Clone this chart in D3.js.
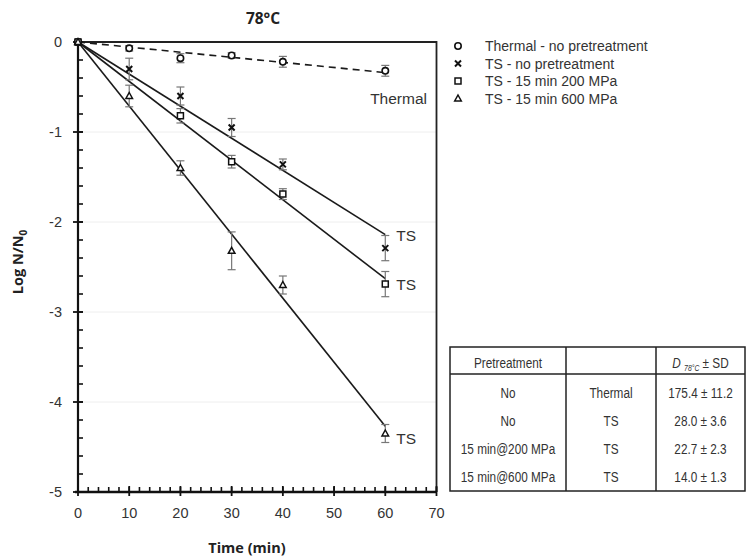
<!DOCTYPE html>
<html>
<head>
<meta charset="utf-8">
<script src="https://cdn.jsdelivr.net/npm/d3@7"></script>
<style>
  body { margin: 0; background: #fff; }
  svg { display: block; font-family: "Liberation Sans", Arial, sans-serif; }
</style>
</head>
<body>
<svg id="chart" width="746" height="558"></svg>
<script>
// data
var times = [0, 10, 20, 30, 40, 60];
var seriesNames = ["Thermal - no pretreatment", "TS - no pretreatment", "TS - 15 min 200 MPa", "TS - 15 min 600 MPa"];
var thermalVals = [0, -0.07, -0.18, -0.15, -0.22, -0.32];
var thermalErr = [0, 0.03, 0.05, 0.03, 0.06, 0.06];
var tsNoVals = [0, -0.30, -0.60, -0.95, -1.36, -2.29];
var tsNoErr = [0, 0.12, 0.10, 0.10, 0.06, 0.14];
var ts200Vals = [0, null, -0.82, -1.33, -1.69, -2.69];
var ts200Err = [0, 0, 0.08, 0.07, 0.06, 0.14];
var ts600Vals = [0, -0.60, -1.40, -2.32, -2.70, -4.35];
var ts600Err = [0, 0.12, 0.08, 0.21, 0.10, 0.10];
// fitted lines, value at t = 60
var fitEnd = [-0.34, -2.14, -2.63, -4.27];
var lineLabels = ["Thermal", "TS", "TS", "TS"];

var tableHead = ["Pretreatment", "", "D"];
var tablePre = ["No", "No", "15 min@200 MPa", "15 min@600 MPa"];
var tableType = ["Thermal", "TS", "TS", "TS"];
var tableD = ["175.4 \u00b1 11.2", "28.0 \u00b1 3.6", "22.7 \u00b1 2.3", "14.0 \u00b1 1.3"];

var svg = d3.select("#chart");
var x = d3.scaleLinear().domain([0, 70]).range([78, 436.5]);
var y = d3.scaleLinear().domain([-5, 0]).range([492, 42]);

// faint grid
svg.append("g").selectAll("line").data([-1, -2, -3, -4]).join("line")
    .attr("x1", x(0)).attr("x2", x(70))
    .attr("y1", d => y(d)).attr("y2", d => y(d))
    .attr("stroke", "#eeeeee").attr("stroke-width", 1);

// frame top and right
svg.append("path")
    .attr("d", "M" + x(0) + "," + y(0) + "H" + x(70) + "V" + y(-5))
    .attr("fill", "none").attr("stroke", "#222").attr("stroke-width", 1.8);

// y axis
var yAxis = svg.append("g").attr("transform", "translate(" + x(0) + ",0)");
yAxis.append("line").attr("y1", y(0)).attr("y2", y(-5)).attr("stroke", "#111").attr("stroke-width", 2.2);
yAxis.selectAll(".minor").data(d3.range(-50, 1, 2).map(d => d / 10)).join("line")
    .attr("x1", 0).attr("x2", 5)
    .attr("y1", d => y(d)).attr("y2", d => y(d))
    .attr("stroke", "#111").attr("stroke-width", 1.6);
yAxis.selectAll(".major").data(d3.range(-5, 1)).join("line")
    .attr("x1", -5).attr("x2", 5)
    .attr("y1", d => y(d)).attr("y2", d => y(d))
    .attr("stroke", "#111").attr("stroke-width", 1.8);
yAxis.selectAll("text").data(d3.range(-5, 1)).join("text")
    .attr("x", -16).attr("y", d => y(d) + 5)
    .attr("text-anchor", "end").attr("font-size", 14.5).attr("fill", "#333")
    .text(d => d);

// x axis
var xAxis = svg.append("g").attr("transform", "translate(0," + y(-5) + ")");
xAxis.append("line").attr("x1", x(0) - 3).attr("x2", x(70)).attr("stroke", "#111").attr("stroke-width", 2.4);
xAxis.selectAll(".minor").data(d3.range(0, 71, 2)).join("line")
    .attr("x1", d => x(d)).attr("x2", d => x(d))
    .attr("y1", 0).attr("y2", -5)
    .attr("stroke", "#111").attr("stroke-width", 1.6);
xAxis.selectAll(".major").data(d3.range(0, 71, 10)).join("line")
    .attr("x1", d => x(d)).attr("x2", d => x(d))
    .attr("y1", 4).attr("y2", -6)
    .attr("stroke", "#111").attr("stroke-width", 1.8);
xAxis.selectAll("text").data(d3.range(0, 71, 10)).join("text")
    .attr("x", d => x(d)).attr("y", 26)
    .attr("text-anchor", "middle").attr("font-size", 14.5).attr("fill", "#333")
    .text(d => d);

// titles
svg.append("text").attr("x", 263).attr("y", 24).attr("text-anchor", "middle")
    .attr("font-family", "'Open Sans', sans-serif").attr("font-weight", "bold").attr("font-size", 15.5).attr("fill", "#222")
    .text("78\u00b0C");
svg.append("text").attr("x", 247).attr("y", 553).attr("text-anchor", "middle")
    .attr("font-family", "'Open Sans', sans-serif").attr("font-weight", "bold").attr("font-size", 14.5).attr("fill", "#222")
    .text("Time (min)");
var yl = svg.append("text").attr("transform", "translate(23,262) rotate(-90)").attr("text-anchor", "middle")
    .attr("font-family", "'Open Sans', sans-serif").attr("font-weight", "bold").attr("font-size", 14.5).attr("fill", "#222");
yl.append("tspan").text("Log N/N");
yl.append("tspan").attr("font-size", 10).attr("dy", 4).text("0");

// fitted lines
svg.append("g").selectAll("line").data(fitEnd).join("line")
    .attr("x1", x(0)).attr("y1", y(0))
    .attr("x2", x(60)).attr("y2", d => y(d))
    .attr("stroke", "#1a1a1a").attr("stroke-width", 1.6)
    .attr("stroke-dasharray", (d, i) => i === 0 ? "7,5" : null);

// line labels
svg.append("text").attr("x", 427).attr("y", 104).attr("text-anchor", "end")
    .attr("font-size", 15.5).attr("fill", "#333").text(lineLabels[0]);
var tsLabelY = [fitEnd[1], ts200Vals[5], ts600Vals[5] - 0.05];
svg.append("g").selectAll("text").data(tsLabelY).join("text")
    .attr("x", x(60) + 11).attr("y", d => y(d) + 6)
    .attr("font-size", 15.5).attr("fill", "#333")
    .text((d, i) => lineLabels[i + 1]);

// markers
function symbolPath(kind, cx, cy) {
    var r = 3;
    if (kind === 2) return "M" + (cx - r) + "," + (cy - r) + "h" + 2 * r + "v" + 2 * r + "h" + -2 * r + "Z";
    if (kind === 3) return "M" + cx + "," + (cy - 3.5) + "L" + (cx + 3.3) + "," + (cy + 2.5) + "L" + (cx - 3.3) + "," + (cy + 2.5) + "Z";
    return null;
}

function drawMarkers(g, xy, k) {
    if (k === 0) {
        g.selectAll(".m").data(xy).join("circle")
            .attr("cx", d => d[0]).attr("cy", d => d[1]).attr("r", 3.2)
            .attr("fill", "#fff").attr("stroke", "#111").attr("stroke-width", 1.6);
    } else if (k === 1) {
        g.selectAll(".m").data(xy).join("path")
            .attr("d", d => "M" + (d[0] - 3) + "," + (d[1] - 3) + "L" + (d[0] + 3) + "," + (d[1] + 3) +
                "M" + (d[0] + 3) + "," + (d[1] - 3) + "L" + (d[0] - 3) + "," + (d[1] + 3))
            .attr("stroke", "#111").attr("stroke-width", 2);
    } else {
        g.selectAll(".m").data(xy).join("path")
            .attr("d", d => symbolPath(k, d[0], d[1]))
            .attr("fill", "#fff").attr("stroke", "#111").attr("stroke-width", 1.5);
    }
}

var allSeries = [
    {vals: thermalVals, err: thermalErr},
    {vals: tsNoVals, err: tsNoErr},
    {vals: ts200Vals, err: ts200Err},
    {vals: ts600Vals, err: ts600Err}
];

allSeries.forEach(function (s, k) {
    var pts = times.map((t, i) => ({t: t, v: s.vals[i], e: s.err[i]})).filter(p => p.v !== null);
    var g = svg.append("g");
    // error bars
    var eb = g.selectAll(".eb").data(pts.filter(p => p.e > 0)).join("g").attr("stroke", "#777").attr("stroke-width", 1.2);
    eb.append("line").attr("x1", p => x(p.t)).attr("x2", p => x(p.t)).attr("y1", p => y(p.v + p.e)).attr("y2", p => y(p.v - p.e));
    eb.append("line").attr("x1", p => x(p.t) - 4).attr("x2", p => x(p.t) + 4).attr("y1", p => y(p.v + p.e)).attr("y2", p => y(p.v + p.e));
    eb.append("line").attr("x1", p => x(p.t) - 4).attr("x2", p => x(p.t) + 4).attr("y1", p => y(p.v - p.e)).attr("y2", p => y(p.v - p.e));
    drawMarkers(g, pts.map(p => [x(p.t), y(p.v)]), k);
});

// legend
var legend = svg.append("g");
seriesNames.forEach(function (name, k) {
    var ly = 46 + k * 17.5;
    drawMarkers(legend.append("g"), [[458, ly]], k);
    legend.append("text").attr("x", 485).attr("y", ly + 5)
        .attr("font-size", 14).attr("fill", "#333").text(name);
});

// table
var tx = [450, 566, 656, 745];
var tyTop = 347, tyHead = 374, tyBot = 491, rowH = 28;
var tg = svg.append("g");
tg.append("rect").attr("x", tx[0]).attr("y", tyTop).attr("width", tx[3] - tx[0]).attr("height", tyBot - tyTop)
    .attr("fill", "#fff").attr("stroke", "#222").attr("stroke-width", 1.5);
tg.append("line").attr("x1", tx[0]).attr("x2", tx[3]).attr("y1", tyHead).attr("y2", tyHead).attr("stroke", "#222").attr("stroke-width", 1.5);
tg.selectAll(".vl").data([tx[1], tx[2]]).join("line")
    .attr("x1", d => d).attr("x2", d => d).attr("y1", tyTop).attr("y2", tyBot)
    .attr("stroke", "#222").attr("stroke-width", 1.5);

function cellText(cx, cy, str) {
    return tg.append("text").attr("transform", "translate(" + cx + "," + cy + ") scale(0.76,1)")
        .attr("text-anchor", "middle").attr("font-size", 15.5).attr("fill", "#333").text(str);
}
cellText((tx[0] + tx[1]) / 2, tyTop + 21, tableHead[0]);
var dh = tg.append("text").attr("transform", "translate(" + ((tx[2] + tx[3]) / 2) + "," + (tyTop + 21) + ") scale(0.76,1)")
    .attr("text-anchor", "middle").attr("font-size", 15.5).attr("fill", "#333");
dh.append("tspan").attr("font-style", "italic").text(tableHead[2] + " ");
dh.append("tspan").attr("font-style", "italic").attr("font-size", 9).attr("dy", 3).text("78\u00b0C");
dh.append("tspan").attr("dy", -3).text(" \u00b1 SD");

tablePre.forEach(function (p, i) {
    var cy = tyHead + rowH * i + 24;
    cellText((tx[0] + tx[1]) / 2, cy, p);
    cellText((tx[1] + tx[2]) / 2, cy, tableType[i]);
    cellText((tx[2] + tx[3]) / 2, cy, tableD[i]);
});
</script>
</body>
</html>
